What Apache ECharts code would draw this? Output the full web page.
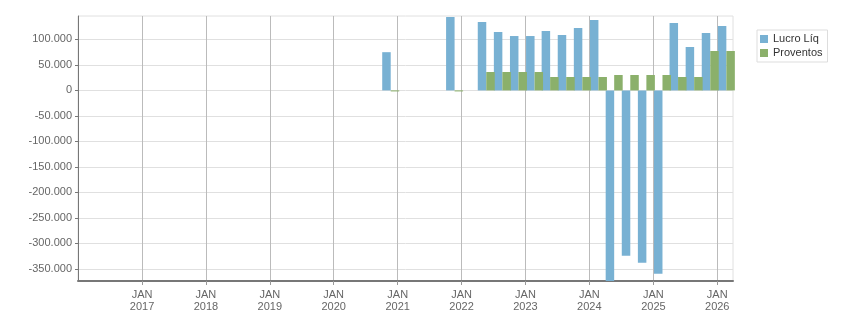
<!DOCTYPE html>
<html lang="pt" style="height: 100%">

<head>
    <meta charset="UTF-8">
    <title>Lucro Líq x Proventos</title>
    <script type="text/javascript" src="https://cdn.jsdelivr.net/npm/echarts@6/dist/echarts.min.js"></script>
</head>

<body style="height: 100%; margin: 0">
    <div id="container" style="width: 851px; height: 313px"></div>
    <script type="text/javascript">
    var datas = ['2020-11-22', '2021-11-22',
        '2022-05-22', '2022-08-22', '2022-11-22',
        '2023-02-22', '2023-05-22', '2023-08-22', '2023-11-22',
        '2024-02-22', '2024-05-22', '2024-08-22', '2024-11-22',
        '2025-02-22', '2025-05-22', '2025-08-22', '2025-11-22',
        '2026-02-22'];
    var lucroLiq = [75000, 144000,
        134200, 114600, 106700,
        106700, 116600, 108700, 122400,
        138100, -374000, -324400, -338100,
        -359700, 132300, 85200, 112600,
        126400];
    var proventos = [-2000, -2000,
        36100, 36100, 36100,
        36100, 26300, 26300, 26300,
        26300, 30200, 30200, 30200,
        30200, 26300, 26300, 77300,
        77300];
    var yTicks = [-350000, -300000, -250000, -200000, -150000, -100000, -50000, 0, 50000, 100000];
    var anosTicks = [2017, 2018, 2019, 2020, 2021, 2022, 2023, 2024, 2025, 2026];

    var myChart = echarts.init(document.getElementById('container'));

    function ts(s) {
        var p = s.split('-');
        return new Date(+p[0], +p[1] - 1, +p[2]).getTime();
    }

    function fmtMil(v) {
        if (v === 0) return '0';
        var neg = v < 0;
        var s = String(Math.abs(v)).replace(/\B(?=(\d{3})+(?!\d))/g, '.');
        return (neg ? '-' : '') + s;
    }

    var fonte = "'Liberation Sans', Arial, sans-serif";
    var xTicks = anosTicks.map(function (a) { return new Date(a, 0, 1).getTime(); });

    var option = {
        animation: false,
        textStyle: { fontFamily: fonte },
        grid: {
            left: 78,
            right: 118,
            top: 16,
            bottom: 32,
            show: true,
            borderColor: '#e0e0e0',
            borderWidth: 1,
            backgroundColor: 'transparent'
        },
        legend: {
            orient: 'vertical',
            left: 757,
            top: 30,
            padding: [3, 5, 3, 3],
            borderColor: '#dddddd',
            borderWidth: 1,
            itemWidth: 8,
            itemHeight: 8,
            itemGap: 2,
            icon: 'rect',
            textStyle: { fontSize: 11, color: '#333', lineHeight: 12, fontFamily: fonte },
            data: ['Lucro Líq', 'Proventos']
        },
        xAxis: {
            type: 'value',
            min: ts('2016-01-01'),
            max: ts('2026-04-01'),
            axisLine: { onZero: false, lineStyle: { color: '#777', width: 2 } },
            axisTick: {
                show: true,
                length: 4,
                lineStyle: { color: '#999' },
                customValues: xTicks
            },
            axisLabel: {
                color: '#666',
                fontSize: 11,
                lineHeight: 12,
                margin: 8,
                customValues: xTicks,
                formatter: function (v) {
                    return 'JAN\n' + new Date(v).getFullYear();
                }
            },
            splitLine: { show: true, lineStyle: { color: '#bbbbbb' } }
        },
        yAxis: {
            type: 'value',
            min: -374000,
            max: 146000,
            axisLine: { show: true, onZero: false, lineStyle: { color: '#777' } },
            axisTick: {
                show: true,
                length: 3,
                lineStyle: { color: '#777' },
                customValues: yTicks
            },
            axisLabel: {
                color: '#666',
                fontSize: 11,
                margin: 6,
                customValues: yTicks,
                formatter: fmtMil
            },
            splitLine: { show: true, lineStyle: { color: '#e0e0e0' } }
        },
        series: [{
            name: 'Lucro Líq',
            type: 'bar',
            barWidth: 8.5,
            barGap: '0%',
            itemStyle: { color: '#78b1d3' },
            data: datas.map(function (d, i) { return [ts(d), lucroLiq[i]]; })
        }, {
            name: 'Proventos',
            type: 'bar',
            barWidth: 8.5,
            barGap: '0%',
            itemStyle: { color: '#8bb06b' },
            data: datas.map(function (d, i) { return [ts(d), proventos[i]]; })
        }]
    };

    myChart.setOption(option);
    </script>
</body>

</html>
